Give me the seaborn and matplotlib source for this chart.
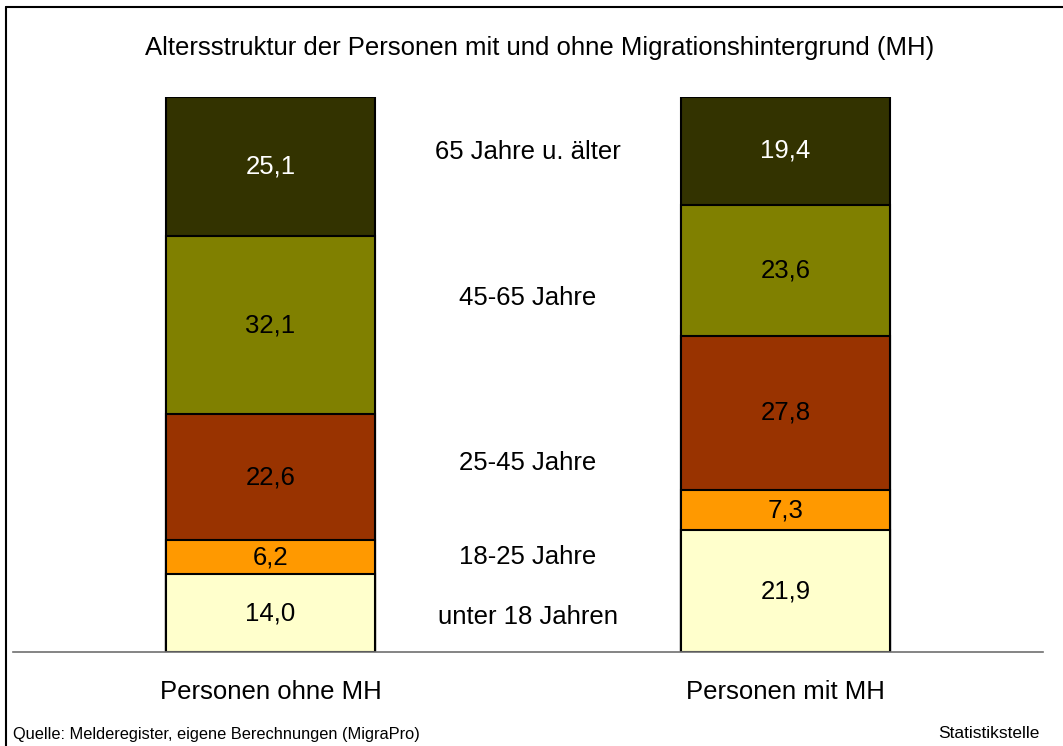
import numpy as np
import pandas as pd
import matplotlib
matplotlib.use("Agg")
import matplotlib.pyplot as plt
from matplotlib.lines import Line2D
import seaborn as sns

# Data
groups = ["Personen ohne MH", "Personen mit MH"]
age_classes = ["unter 18 Jahren", "18-25 Jahre", "25-45 Jahre", "45-65 Jahre", "65 Jahre u. älter"]
ohne_mh = [14.0, 6.2, 22.6, 32.1, 25.1]
mit_mh = [21.9, 7.3, 27.8, 23.6, 19.4]
colors = ["#FFFFCC", "#FF9900", "#993300", "#808000", "#333300"]
label_colors = ["black", "black", "black", "black", "white"]
class_label_y = [6.3, 17.1, 34.0, 63.8, 90.1]

sns.set_theme(style="white")
plt.rcParams['font.family'] = ['Liberation Sans', 'DejaVu Sans']

fig = plt.figure(figsize=(10.63, 7.46), dpi=100)
ax = fig.add_axes([13/1063, 1 - 652/746, 1030/1063, 555/746])

values = np.array([ohne_mh, mit_mh])
cum = np.cumsum(values, axis=1)

# draw cumulative bars from the top class down
for i in reversed(range(len(age_classes))):
    df = pd.DataFrame({"group": groups, "value": cum[:, i]})
    sns.barplot(data=df, x="group", y="value", order=groups, color=colors[i],
                saturation=1, width=0.404, edgecolor="black", linewidth=1.5,
                ax=ax, zorder=2)

# value labels
for g in range(len(groups)):
    for i in range(len(age_classes)):
        mid = cum[g, i] - values[g, i] / 2
        ax.text(g, mid, f"{values[g, i]:.1f}".replace(".", ","), ha="center", va="center",
                fontsize=18.5, color=label_colors[i], zorder=5)

# class labels in the middle
for i, name in enumerate(age_classes):
    ax.text(0.5, class_label_y[i], name, ha="center", va="center", fontsize=18.5, color="black")

ax.set_xlim(-0.5, 1.5)
ax.set_ylim(0, 100)
ax.set_xlabel("")
ax.set_ylabel("")
ax.set_yticks([])
ax.set_xticks([])
for s in ["top", "left", "right"]:
    ax.spines[s].set_visible(False)
ax.spines["bottom"].set_color("#707070")
ax.spines["bottom"].set_linewidth(1.2)
ax.patch.set_alpha(0)

# category labels
for g, name in enumerate(groups):
    ax.text(g, -7.2, name, ha="center", va="center", fontsize=18.5, color="black")

fig.text(540/1063, 1 - 48/746, "Altersstruktur der Personen mit und ohne Migrationshintergrund (MH)",
         ha="center", va="center", fontsize=18.5, color="black")
fig.text(13/1063, 1 - 734/746, "Quelle: Melderegister, eigene Berechnungen (MigraPro)",
         ha="left", va="center", fontsize=11.8, color="black")
fig.text(1040/1063, 1 - 734/746, "Statistikstelle", ha="right", va="center", fontsize=12.5, color="black")

# frame (left and top edges)
fig.add_artist(Line2D([6/1063, 6/1063], [0, 1 - 7/746], transform=fig.transFigure, color="black", lw=1.5))
fig.add_artist(Line2D([6/1063, 1], [1 - 7/746, 1 - 7/746], transform=fig.transFigure, color="black", lw=1.5))

fig.savefig("out.png", dpi=100)
